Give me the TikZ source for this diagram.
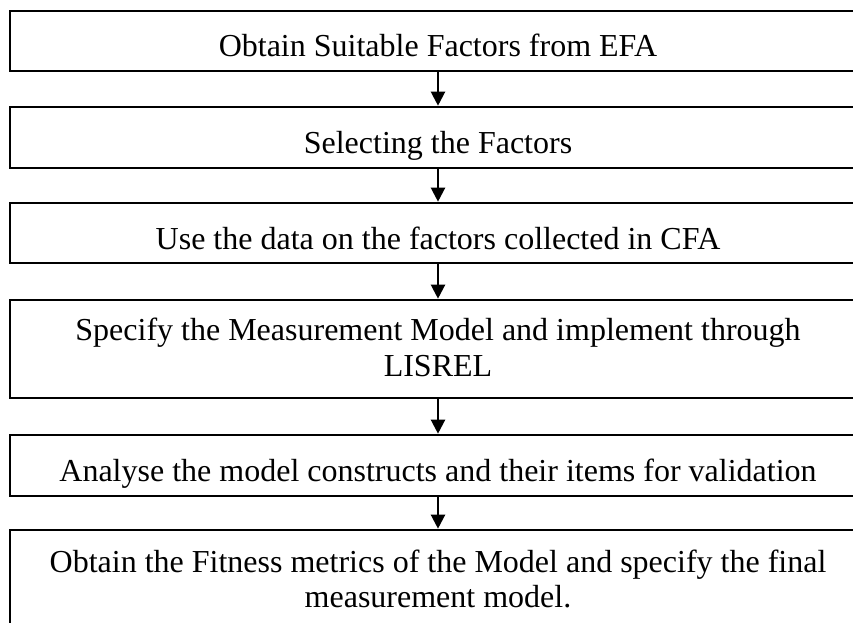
\documentclass[tikz,border=0pt]{standalone}
\usepackage{fontspec}
\setmainfont{Liberation Serif}
\usetikzlibrary{arrows.meta}
\begin{document}
\begin{tikzpicture}[x=1pt,y=-1pt,
  stepbox/.style={draw, line width=2.6pt, rectangle, minimum width=856pt, inner sep=0pt},
  steptext/.style={anchor=base, align=center, inner sep=0pt,
    font=\fontsize{32}{37}\selectfont},
  flow/.style={line width=2.2pt, -{Triangle[length=14pt,width=14pt]}}]
\useasboundingbox (0,0) rectangle (853,623);
\clip (0,0) rectangle (853,623);
% frames of the six steps
\node[stepbox, minimum height=60pt] (b1) at (438,41) {};
\node[stepbox, minimum height=61pt] (b2) at (438,137.5) {};
\node[stepbox, minimum height=60pt] (b3) at (438,233) {};
\node[stepbox, minimum height=98pt] (b4) at (438,349) {};
\node[stepbox, minimum height=61pt] (b5) at (438,465.5) {};
\node[stepbox, minimum height=106pt] (b6) at (438,583) {};
% step texts, placed on their baselines
\node[steptext] (t1) at (438,57) {Obtain Suitable Factors from EFA};
\node[steptext] (t2) at (438,153) {Selecting the Factors};
\node[steptext] (t3) at (438,249) {Use the data on the factors collected in CFA};
\node[steptext] (t4) at (438,340) {Specify the Measurement Model and implement through};
\node[steptext] (t4b) at (438,376) {LISREL};
\node[steptext] (t5) at (438,481) {Analyse the model constructs and their items for validation};
\node[steptext] (t6) at (438,572) {Obtain the Fitness metrics of the Model and specify the final};
\node[steptext] (t6b) at (438,607) {measurement model.};
% connectors
\draw[flow] (b1.south) -- (b2.north);
\draw[flow] (b2.south) -- (b3.north);
\draw[flow] (b3.south) -- (b4.north);
\draw[flow] (b4.south) -- (b5.north);
\draw[flow] (b5.south) -- (b6.north);
\end{tikzpicture}
\end{document}
